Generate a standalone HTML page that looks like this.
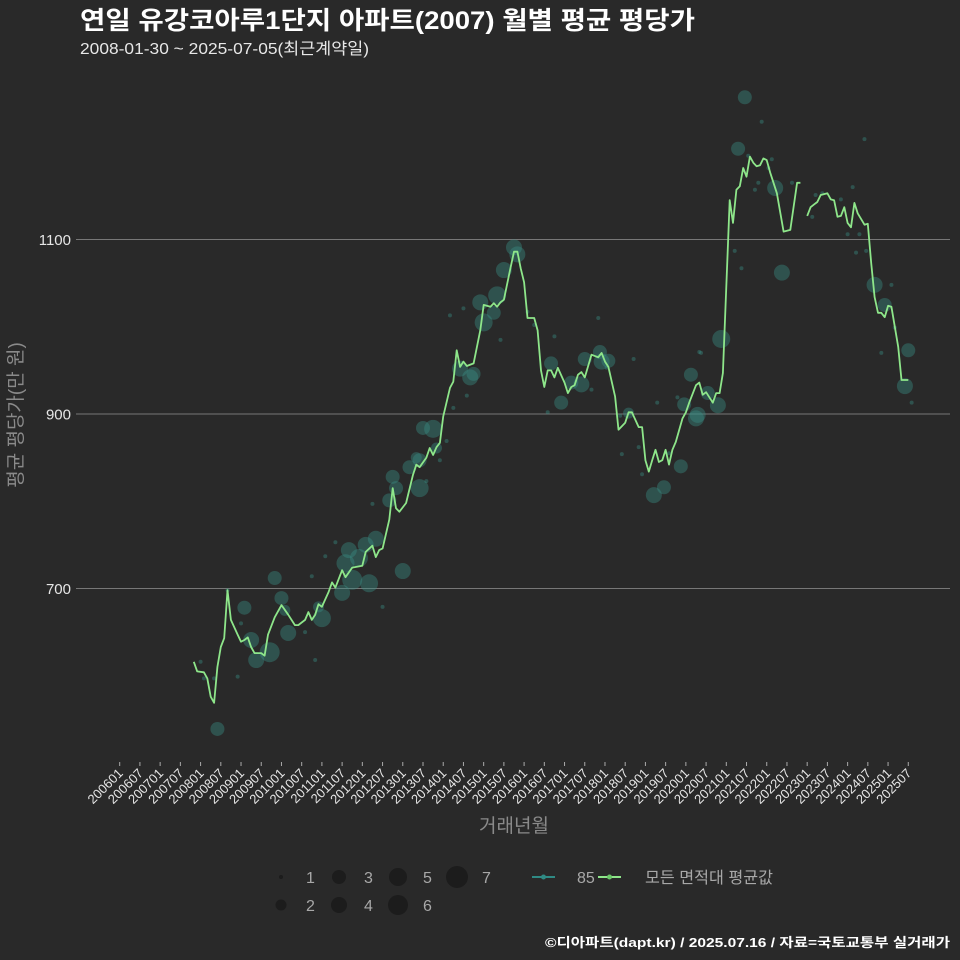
<!DOCTYPE html>
<html><head><meta charset="utf-8">
<style>
html,body{margin:0;padding:0;background:#292929;}
svg{display:block;font-family:"Liberation Sans","Noto Sans CJK KR",sans-serif;}
</style></head>
<body>
<svg id="chart" width="960" height="960" viewBox="0 0 960 960" xmlns="http://www.w3.org/2000/svg">
<rect width="960" height="960" fill="#292929"/>
<text x="80" y="29" fill="#ffffff" font-size="25" font-weight="bold" textLength="615" lengthAdjust="spacingAndGlyphs">연일 유강코아루1단지 아파트(2007) 월별 평균 평당가</text>
<text x="80" y="54" fill="#e8e8e8" font-size="16" textLength="289" lengthAdjust="spacingAndGlyphs">2008-01-30 ~ 2025-07-05(최근계약일)</text>
<g id="grid"></g>
<g id="bubbles"></g>
<g id="line"></g>
<g id="xaxis"></g>
<text x="514" y="832" fill="#8a8a8a" font-size="19" text-anchor="middle">거래년월</text>
<text transform="translate(22,415) rotate(-90)" fill="#8a8a8a" font-size="19" text-anchor="middle">평균 평당가(만 원)</text>
<g id="legend"></g>
<text x="545" y="947" fill="#ffffff" font-size="13" font-weight="bold" textLength="405" lengthAdjust="spacingAndGlyphs">©디아파트(dapt.kr) / 2025.07.16 / 자료=국토교통부 실거래가</text>
</svg>
<script>
// month offsets are months since 2006-01
const yTicks = [700, 900, 1100];
const xTickLabels = ["200601","200607","200701","200707","200801","200807","200901","200907","201001","201007","201101","201107","201201","201207","201301","201307","201401","201407","201501","201507","201601","201607","201701","201707","201801","201807","201901","201907","202001","202007","202101","202107","202201","202207","202301","202307","202401","202407","202501","202507"];
const lineMonths = [22,23,25,26,27,28,29,30,31,32,33,35,36,37,38,39,40,42,43,44,46,48,50,52,53,55,56,57,58,59,60,62,63,64,66,67,69,72,73,75,76,77,78,80,81,82,83,85,87,88,89,91,92,93,94,95,96,98,99,100,101,102,103,105,107,108,110,111,112,113,114,116,117,118,119,120,121,123,124,125,126,127,128,129,130,132,133,134,135,136,137,138,140,142,143,144,145,147,148,150,151,152,154,155,156,157,158,159,160,161,162,163,164,165,167,168,169,171,172,173,174,176,177,178,179,181,182,183,184,185,186,187,188,189,190,191,192,193,195,197,198,199,201,202,203,204,205,206,207,208,210,211,212,213,214,215,216,217,218,219,221,222,223,224,225,226,227,228,229,231,232,234];
const lineValues = [616,605,604,597,576,569,610,633,643,698,664,647,639,641,644,633,626,626,623,647,667,681,670,658,658,664,673,664,670,682,679,696,707,701,721,713,724,726,742,749,736,744,746,779,815,792,788,798,830,842,839,850,861,853,862,867,897,930,937,973,954,960,955,958,996,1025,1023,1027,1023,1028,1031,1068,1086,1086,1067,1051,1010,1010,996,950,931,950,950,942,953,936,924,931,933,945,948,942,968,965,970,960,954,920,882,890,902,902,885,885,847,834,847,859,845,847,859,842,859,868,895,902,913,933,936,922,925,913,924,924,947,1145,1119,1157,1161,1182,1172,1195,1188,1184,1185,1193,1191,1177,1153,1109,1110,1111,1165,1165,null,1127,1137,1140,1143,1151,1153,1146,1145,1126,1127,1137,1119,1114,1142,1130,1117,1118,1073,1034,1016,1016,1011,1024,1023,977,939,939];
const bubbleMonths = [24,25,28,29,32,37,36,35,39,40.5,44.5,46,48,50,49,55,57,58,59,60,61,64,66,67,68,69,71,73,74,76,78,75,81,82,80,84,89,91,86,89,88,90,93,94,95,97,99,103,104,101,105,98,102,107,108,111,112,113,114,117,118,121,123,129,128,131,127,134,137,140,138,142,142.5,143,145,144.5,152.5,148.5,151,149,154,158.5,161.5,155,163,166.5,165.5,159.5,167.5,171,169.5,172,185.5,190.5,183.5,186.5,193.5,192.5,189.5,188.5,194.5,199.5,182.5,184.5,196.5,178.5,172.5,174.5,177.5,171.5,221,217.5,206.5,208.5,214,205.5,216,219.5,221.5,218.5,224,229,227,230,226,234,233,235];
const bubbleValues = [616,597,597,539,698,678,660,599,641,618,627,712,689,649,675,650,714,618,679,666,737,753,695,729,744,710,735,750,706,757,679,797,828,815,801,720,815,823,839,847,850,884,883,861,847,869,907,921,942,952,946,1013,1021,1028,1005,1016,1036,985,1065,1091,1083,1017,1002,989,958,913,902,936,934,928,963,1010,971,960,961,953,963,898,901,854,862,807,816,831,855,840,919,913,911,895,945,971,1263,1235,1204,1196,1192,1182,1165,1157,1159,1165,1087,1067,1062,986,970,924,910,899,1215,1160,1151,1153,1146,1126,1106,1106,1087,1085,1048,1048,1025,999,970,973,932,913];
const bubbleCounts = [1,1,1,3,1,3,1,1,4,4,6,3,3,4,2,1,1,1,2,5,1,1,4,5,4,6,5,4,5,4,1,1,3,3,3,4,5,1,3,3,2,3,5,2,1,1,1,1,4,4,3,1,1,4,5,3,5,1,4,4,4,1,1,1,3,3,1,3,4,1,3,1,3,4,3,1,1,1,2,1,1,4,3,1,1,3,1,1,3,4,3,1,3,1,3,1,1,1,1,1,4,1,1,1,4,5,1,3,4,4,1,1,1,1,1,1,1,1,1,1,4,1,3,1,1,3,4,1,1];
const sizeLevels = [1,2,3,4,5,6,7];

const NS = "http://www.w3.org/2000/svg";
const xScale = m => 119.7 + m * 3.37;
const yScale = v => 414 - (v - 900) * 0.8725;
const rScale = c => [0, 2, 5.5, 7, 8, 9, 10, 11][c];
function mk(tag, attrs, parent) {
  const e = document.createElementNS(NS, tag);
  for (const k in attrs) e.setAttribute(k, attrs[k]);
  parent.appendChild(e);
  return e;
}
const grid = document.getElementById('grid');
yTicks.forEach(t => {
  const y = yScale(t);
  const l = mk('line', {x1: 76, x2: 950, y1: y, y2: y, stroke: '#777', 'stroke-width': 1.1}, grid);
  
  
  const tx = mk('text', {x: 71, y: y + 5.5, fill: '#e6e6e6', 'font-size': 15, 'text-anchor': 'end'}, grid);
  tx.textContent = t;
  
  
});
const xa = document.getElementById('xaxis');
xTickLabels.forEach((lab, i) => {
  const x = xScale(i * 6);
  const tk = mk('line', {x1: x, x2: x, y1: 762, y2: 766, stroke: '#aaa', 'stroke-width': 1}, xa);
  
  
  const tx = mk('text', {x: 0, y: 0, fill: '#e6e6e6', 'font-size': 13, 'text-anchor': 'end', transform: `translate(${x + 4},${774}) rotate(-45)`}, xa);
  tx.textContent = lab;
  
  
});
const bg = document.getElementById('bubbles');
bubbleMonths.forEach((m, i) => {
  const c = mk('circle', {cx: xScale(m), cy: yScale(bubbleValues[i]), r: rScale(bubbleCounts[i]), fill: '#3a8c84', 'fill-opacity': 0.42}, bg);
  
  
});
const lg = document.getElementById('line');
let d = '', pen = false;
lineMonths.forEach((m, i) => {
  const v = lineValues[i];
  if (v === null) { pen = false; return; }
  d += (pen ? 'L' : 'M') + xScale(m).toFixed(1) + ',' + yScale(v).toFixed(1);
  pen = true;
});
const p = mk('path', {d: d, fill: 'none', stroke: '#8ee68a', 'stroke-width': 1.8, 'stroke-linejoin': 'round'}, lg);



const leg = document.getElementById('legend');
const legPos = [[281,877,306],[281,905,306],[339,877,364],[339,905,364],[398,877,423],[398,905,423],[457,877,482]];
sizeLevels.forEach((s, i) => {
  const [cx, cy, lx] = legPos[i];
  const c = mk('circle', {cx: cx, cy: cy, r: rScale(s), fill: '#1c1c1c'}, leg);
  
  
  const t = mk('text', {x: lx, y: cy + 6, fill: '#a8a8a8', 'font-size': 16}, leg);
  t.textContent = s;
  
  
});
const l1 = mk('line', {x1: 532, x2: 555, y1: 877, y2: 877, stroke: '#2f8a84', 'stroke-width': 2}, leg);


const c1 = mk('circle', {cx: 543.5, cy: 877, r: 2.5, fill: '#2f8a84'}, leg);


const t1 = mk('text', {x: 577, y: 883, fill: '#a8a8a8', 'font-size': 16}, leg);
t1.textContent = '85';


const l2 = mk('line', {x1: 598, x2: 621, y1: 877, y2: 877, stroke: '#8ee68a', 'stroke-width': 2}, leg);


const c2 = mk('circle', {cx: 609.5, cy: 877, r: 2.5, fill: '#6cc86a'}, leg);


const t2 = mk('text', {x: 645, y: 883, fill: '#a8a8a8', 'font-size': 16, textLength: 128, lengthAdjust: 'spacingAndGlyphs'}, leg);
t2.textContent = '모든 면적대 평균값';


</script>
</body></html>
